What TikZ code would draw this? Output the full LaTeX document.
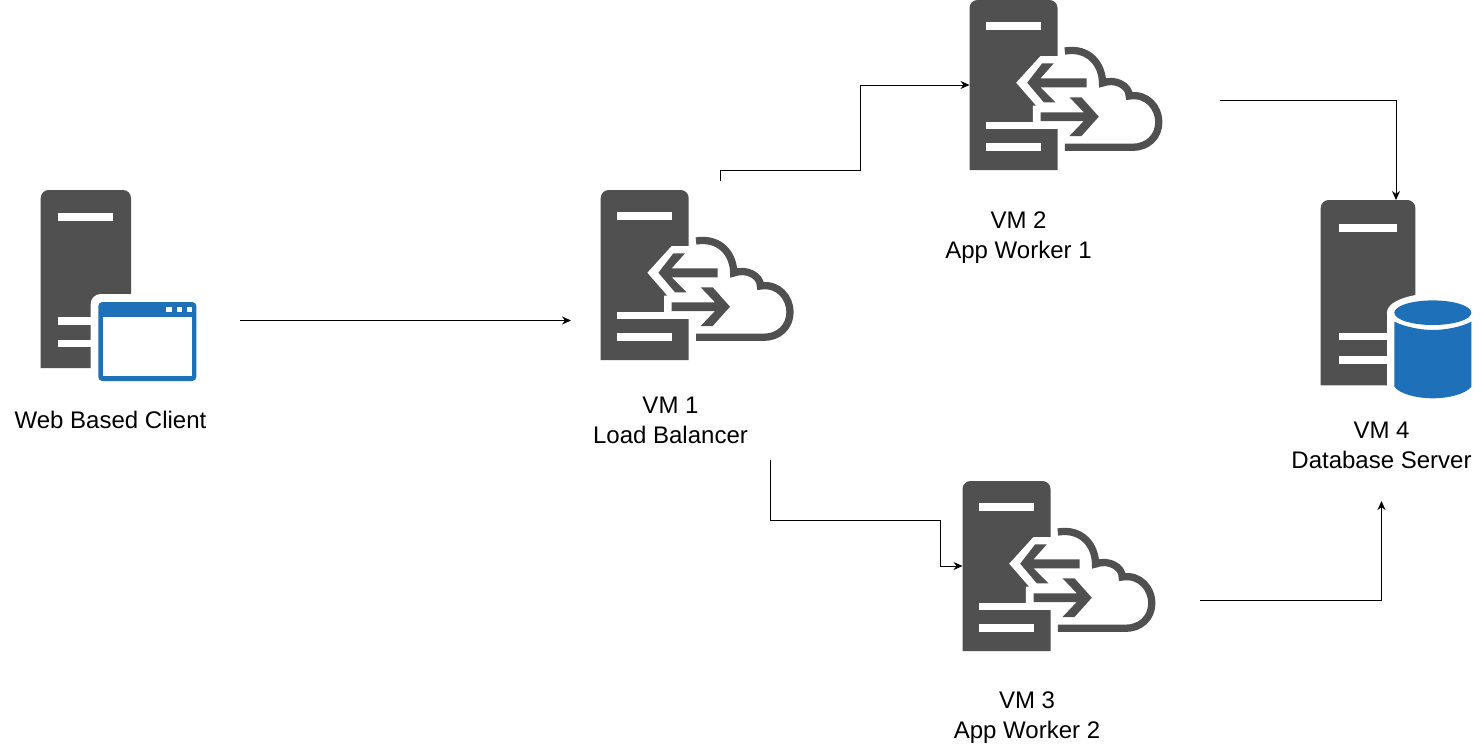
\documentclass[tikz,border=0pt]{standalone}
\usepackage{fontspec}
\setmainfont{Liberation Sans}
\usetikzlibrary{arrows.meta}
\definecolor{icongray}{HTML}{505050}
\definecolor{iconblue}{HTML}{1E70B8}
\tikzset{
	iconbox/.style={inner sep=0, outer sep=0, anchor=north west},
	caption/.style={align=center, inner sep=0, font=\fontsize{24}{30}\selectfont},
	link/.style={line width=1pt, black, -{Stealth[length=9, width=8]}},
	slot/.style={fill=white},
	cloudserver/.pic={
		% server body
		\fill[icongray, rounded corners=8] (0,170) -- (0,0) -- (88,0) -- (88,170);
		\fill[slot] (16.7,22.3) rectangle (71,29.7);
		\fill[slot] (16.7,143.3) rectangle (71,151);
		\fill[slot] (16.7,122) rectangle (89,129);
		% cut for the arrows
		\fill[white] (89,56) -- (71,56) -- (46.7,82.7) -- (66.7,105.7) -- (63.3,105.7) -- (63.3,123) -- (89,123) -- cycle;
		% left arrow
		\fill[icongray] (72.7,63.3) -- (84.3,63.3) -- (71,78.3) -- (117,78.3) -- (117,87.3) -- (71,87.3) -- (86,102.3) -- (74.3,102.3) -- (57.7,82.7) -- cycle;
		% right arrow
		\fill[icongray] (71,112.3) -- (114.3,112.3) -- (100,97.3) -- (112,97.3) -- (129.3,116.7) -- (112,136) -- (100,136) -- (114.3,121) -- (71,121) -- cycle;
		% cloud
		\draw[icongray, line width=7.3] (95.3,51) .. controls (120,47) and (133,65) .. (133,83) .. controls (146,78) and (160,86) .. (159.7,96) .. controls (178,93) and (189.3,108) .. (189.3,122) .. controls (189.3,137) and (178,147.3) .. (163,147.3) -- (95.3,147.3);
	},
	windowserver/.pic={
		% server body
		\fill[icongray, rounded corners=8] (0,178) -- (0,0) -- (90.3,0) -- (90.3,178);
		\fill[slot] (17.7,23.3) rectangle (72.7,30.7);
		\fill[slot] (17.7,127.3) rectangle (60,134.7);
		\fill[slot] (17.7,150) rectangle (60,157.3);
		\fill[white, rounded corners=10] (50,104) rectangle (170,200);
		% window
		\fill[iconblue, rounded corners=4] (57.6,112) rectangle (155.6,191);
		\fill[white] (62.3,126.7) rectangle (151,186);
		\fill[white] (125.6,117) rectangle (131,122);
		\fill[white] (136,117) rectangle (141.3,122);
		\fill[white] (146,117) rectangle (151,122);
	},
	dbserver/.pic={
		% server body
		\fill[icongray, rounded corners=8] (0,185.3) -- (0,0) -- (94.6,0) -- (94.6,185.3);
		\fill[slot] (18.3,24.3) rectangle (76.7,32.3);
		\fill[slot] (18.3,132.7) rectangle (70,140.3);
		\fill[slot] (18.3,156.3) rectangle (70,164.3);
		\fill[white] (112.1,112.7) ellipse [x radius=46, y radius=19];
		\fill[white] (66.1,112.7) rectangle (158,200);
		% cylinder
		\fill[iconblue] (112.1,112.7) ellipse [x radius=38.5, y radius=12.3];
		\fill[iconblue] (73.6,121.7) .. controls (85,127) and (100,130) .. (112.1,130) .. controls (125,130) and (140,127) .. (150.6,121.7) -- (150.6,186.7) .. controls (145,194) and (128,198.3) .. (112.1,198.3) .. controls (96,198.3) and (79,194) .. (73.6,186.7) -- cycle;
	},
}
\begin{document}
\begin{tikzpicture}[x=1pt, y=-1pt]
	\useasboundingbox (0,0) rectangle (1481,750);

	% client
	\node[iconbox, minimum width=156, minimum height=191] (client) at (40.7,190) {};
	\pic at (client.north west) {windowserver};
	\node[caption] (clienttext) at (110.5,419.5) {Web Based Client};

	% load balancer
	\node[iconbox, minimum width=193, minimum height=170] (vmone) at (600.7,190) {};
	\pic at (vmone.north west) {cloudserver};
	\node[caption] (vmonetext) at (670.5,420.5) {VM 1\\Load Balancer};

	% app workers
	\node[iconbox, minimum width=193, minimum height=170] (vmtwo) at (969.5,0) {};
	\pic at (vmtwo.north west) {cloudserver};
	\node[caption] (vmtwotext) at (1018.5,238) {VM 2\\App Worker 1};

	\node[iconbox, minimum width=193, minimum height=170] (vmthree) at (962.5,481) {};
	\pic at (vmthree.north west) {cloudserver};
	\node[caption] (vmthreetext) at (1027,718) {VM 3\\App Worker 2};

	% database
	\node[iconbox, minimum width=150.6, minimum height=198.3] (vmfour) at (1320.7,200) {};
	\pic at (vmfour.north west) {dbserver};
	\node[caption] (vmfourtext) at (1381.5,445.5) {VM 4\\Database Server};

	% free ends of the connectors
	\coordinate (clientout) at (240,320.5);
	\coordinate (vmonein) at (571,320.5);
	\coordinate (vmoneup) at (720.5,181);
	\coordinate (vmoneupbend) at (860.5,170.5);
	\coordinate (vmonedown) at (770.5,460);
	\coordinate (vmonedownbend) at (940.5,520.5);
	\coordinate (vmtwoout) at (1220,100.5);
	\coordinate (vmthreeout) at (1200,600.5);
	\coordinate (vmfourin) at (1381.5,501);

	% connectors
	\draw[link] (clientout) -- (vmonein);
	\draw[link] (vmoneup) |- (vmoneupbend) |- (vmtwo.west);
	\draw[link] (vmonedown) |- (vmonedownbend) |- (vmthree.west);
	\draw[link] (vmtwoout) -| (vmfour.north);
	\draw[link] (vmthreeout) -| (vmfourin);
\end{tikzpicture}
\end{document}
